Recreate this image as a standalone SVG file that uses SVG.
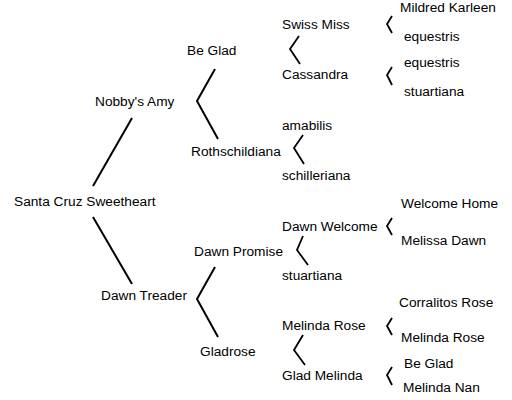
<svg xmlns="http://www.w3.org/2000/svg" width="512" height="400" viewBox="0 0 512 400">
<style>
text{font-family:"Liberation Sans",Arial,sans-serif;font-size:13.7px;fill:#000}
.c{fill:none;stroke:#000;stroke-width:2;stroke-linecap:butt;stroke-linejoin:miter}
.s{fill:none;stroke:#000;stroke-width:1.8}
</style>
<rect width="512" height="400" fill="#fff"/>
<g id="connectors">
<path class="c" d="M132,118 L93,186"/>
<path class="c" d="M93,217 L132,284"/>
<path class="c" d="M215,69 L197,101 L218,139"/>
<path class="c" d="M215,267 L197,299 L218,337"/>
<path class="s" d="M299,36 L290,49 L300,64"/>
<path class="s" d="M303,135 L294,148 L304,164"/>
<path class="s" d="M303,236 L297,250 L308,265"/>
<path class="s" d="M303,335 L294,350 L305,365"/>
<path class="s" d="M392,16 L387,24 L392,33"/>
<path class="s" d="M392,67 L387,75 L392,85"/>
<path class="s" d="M392,218 L387,226 L392,235"/>
<path class="s" d="M392,318 L387,326 L392,335"/>
<path class="s" d="M392,367 L387,375 L392,385"/>
</g>
<g id="n-santa"><text x="14" y="206">Santa Cruz Sweetheart</text></g>
<g id="n-nobby"><text x="95" y="106">Nobby's Amy</text></g>
<g id="n-dawntreader"><text x="101" y="300">Dawn Treader</text></g>
<g id="n-beglad"><text x="187" y="55">Be Glad</text></g>
<g id="n-roth"><text x="191" y="156">Rothschildiana</text></g>
<g id="n-dawnpromise"><text x="194" y="256">Dawn Promise</text></g>
<g id="n-gladrose"><text x="200" y="356">Gladrose</text></g>
<g id="n-swiss"><text x="282" y="29">Swiss Miss</text></g>
<g id="n-cassandra"><text x="282" y="79">Cassandra</text></g>
<g id="n-amabilis"><text x="282" y="130">amabilis</text></g>
<g id="n-schill"><text x="282" y="180">schilleriana</text></g>
<g id="n-dawnwelcome"><text x="282" y="231">Dawn Welcome</text></g>
<g id="n-stuart2"><text x="282" y="280">stuartiana</text></g>
<g id="n-melrose"><text x="282" y="330">Melinda Rose</text></g>
<g id="n-gladmel"><text x="282" y="380">Glad Melinda</text></g>
<g id="n-mildred"><text x="400" y="12">Mildred Karleen</text></g>
<g id="n-eq1"><text x="404" y="41">equestris</text></g>
<g id="n-eq2"><text x="404" y="67">equestris</text></g>
<g id="n-stuart1"><text x="404" y="96">stuartiana</text></g>
<g id="n-welcomehome"><text x="401" y="208">Welcome Home</text></g>
<g id="n-melissa"><text x="401" y="245">Melissa Dawn</text></g>
<g id="n-corralitos"><text x="399" y="307">Corralitos Rose</text></g>
<g id="n-melrose2"><text x="401" y="342">Melinda Rose</text></g>
<g id="n-beglad2"><text x="404" y="368">Be Glad</text></g>
<g id="n-melnan"><text x="403" y="392">Melinda Nan</text></g>
</svg>
